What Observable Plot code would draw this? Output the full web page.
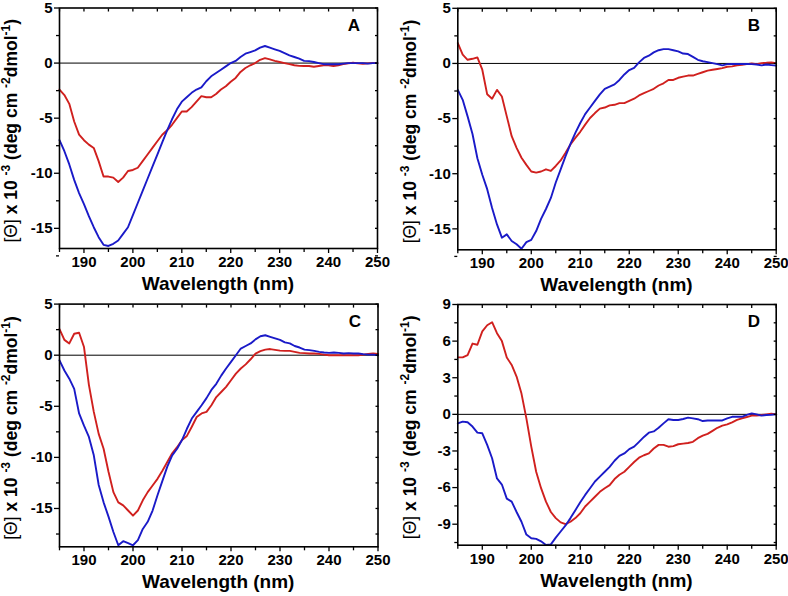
<!DOCTYPE html>
<html>
<head>
<meta charset="utf-8">
<script src="https://cdn.jsdelivr.net/npm/d3@7"></script>
<script src="https://cdn.jsdelivr.net/npm/@observablehq/plot@0.6"></script>
<style>
  html, body { margin: 0; padding: 0; background: #fff; }
  #grid { display: grid; grid-template-columns: 394px 394px; grid-template-rows: 298px 298px; width: 788px; height: 596px; }
  #grid > div { width: 394px; height: 298px; overflow: visible; }
  svg { display: block; overflow: visible; }
</style>
</head>
<body>
<div id="grid"><div id="pA"></div><div id="pB"></div><div id="pC"></div><div id="pD"></div></div>
<script>
// ---- data (wavelength in nm; mean residue ellipticity x 10^-3) ----
const wavelengths = [185,186,187,188,189,190,191,192,193,194,195,196,197,198,199,200,201,202,203,204,205,206,207,208,209,210,211,212,213,214,215,216,217,218,219,220,221,222,223,224,225,226,227,228,229,230,231,232,233,234,235,236,237,238,239,240,241,242,243,244,245,246,247,248,249,250];

const blueA = [-7.0,-8.0,-9.2,-10.6,-11.8,-12.8,-13.9,-14.9,-15.8,-16.5,-16.6,-16.4,-16.1,-15.5,-14.9,-13.8,-12.7,-11.6,-10.5,-9.4,-8.3,-7.2,-6.1,-5.1,-4.2,-3.5,-3.1,-2.7,-2.4,-2.2,-1.65,-1.2,-0.9,-0.6,-0.3,0.0,0.2,0.55,0.85,1.0,1.15,1.4,1.55,1.4,1.25,1.1,0.9,0.7,0.55,0.4,0.2,0.18,0.1,0.0,-0.1,-0.1,-0.1,-0.1,-0.05,0.0,0.0,0.0,0.0,-0.05,0.0,0.0];
const redA = [-2.4,-2.9,-3.7,-5.3,-6.5,-7.0,-7.4,-7.7,-8.9,-10.3,-10.3,-10.4,-10.8,-10.4,-9.8,-9.7,-9.5,-8.9,-8.3,-7.7,-7.1,-6.5,-6.1,-5.6,-5.0,-4.4,-4.4,-4.0,-3.5,-3.0,-3.1,-3.1,-2.8,-2.4,-2.1,-1.7,-1.35,-0.8,-0.45,-0.2,0.0,0.3,0.45,0.33,0.2,0.1,0.0,-0.1,-0.2,-0.25,-0.27,-0.27,-0.33,-0.27,-0.2,-0.2,-0.27,-0.2,-0.1,-0.03,0.03,-0.03,-0.06,-0.03,0.0,0.0];

const blueB = [-2.4,-3.3,-4.8,-6.4,-8.6,-10.1,-11.4,-13.1,-14.6,-15.8,-15.5,-16.1,-16.4,-16.8,-16.2,-16.0,-15.2,-14.1,-13.2,-12.2,-10.8,-9.6,-8.4,-7.3,-6.3,-5.4,-4.6,-4.0,-3.4,-2.8,-2.3,-2.1,-1.9,-1.5,-1.0,-0.6,-0.4,0.1,0.5,0.7,1.0,1.2,1.3,1.3,1.2,1.1,0.9,0.85,0.6,0.33,0.2,0.12,0.03,-0.06,-0.18,-0.06,-0.05,-0.05,-0.05,-0.05,-0.06,-0.1,-0.18,-0.1,-0.15,-0.2];
const redB = [1.85,0.8,0.33,0.42,0.55,-0.57,-2.8,-3.2,-2.4,-3.0,-4.8,-6.6,-7.65,-8.55,-9.2,-9.8,-9.9,-9.8,-9.6,-9.75,-9.3,-8.8,-8.1,-7.35,-6.75,-6.2,-5.55,-4.95,-4.5,-4.1,-4.0,-3.8,-3.75,-3.6,-3.6,-3.4,-3.2,-2.9,-2.7,-2.5,-2.3,-2.0,-1.8,-1.5,-1.5,-1.3,-1.2,-1.1,-1.1,-0.95,-0.8,-0.65,-0.57,-0.5,-0.42,-0.3,-0.27,-0.18,-0.12,-0.06,0.0,-0.06,0.03,0.06,0.1,0.03];

const blueC = [-0.5,-1.5,-2.3,-3.3,-5.7,-6.9,-8.0,-9.8,-12.7,-14.4,-15.8,-17.3,-18.6,-18.2,-18.4,-18.6,-18.1,-17.0,-16.3,-15.2,-13.7,-12.3,-10.9,-9.8,-9.15,-8.3,-7.2,-6.2,-5.55,-4.9,-4.2,-3.4,-2.8,-2.0,-1.3,-0.65,0.0,0.65,0.9,1.15,1.55,1.85,1.95,1.8,1.65,1.5,1.25,1.15,0.9,0.75,0.55,0.5,0.42,0.33,0.26,0.23,0.26,0.23,0.16,0.2,0.16,0.16,0.1,0.06,0.06,0.0];
const redC = [2.55,1.5,1.15,2.1,2.2,0.8,-2.9,-5.55,-7.7,-9.15,-11.4,-13.4,-14.4,-14.7,-15.2,-15.7,-15.2,-14.2,-13.4,-12.75,-12.1,-11.3,-10.45,-9.6,-9.0,-8.3,-7.9,-7.0,-6.05,-5.7,-5.55,-4.9,-4.1,-3.6,-3.1,-2.45,-1.8,-1.3,-0.9,-0.4,0.16,0.4,0.55,0.6,0.52,0.45,0.42,0.42,0.33,0.23,0.2,0.16,0.16,0.13,0.06,0.0,0.0,0.0,0.0,0.0,0.0,0.0,0.06,0.13,0.16,0.13];

const blueD = [-0.74,-0.6,-0.65,-1.0,-1.5,-1.55,-2.5,-3.6,-5.25,-5.75,-6.9,-7.15,-8.0,-8.8,-9.85,-10.15,-10.2,-10.4,-10.7,-10.65,-10.1,-9.6,-9.1,-8.5,-7.85,-7.2,-6.6,-6.05,-5.5,-5.1,-4.7,-4.3,-3.8,-3.4,-3.2,-2.85,-2.65,-2.25,-1.85,-1.5,-1.4,-1.1,-0.74,-0.4,-0.46,-0.46,-0.38,-0.27,-0.33,-0.4,-0.55,-0.5,-0.5,-0.5,-0.5,-0.33,-0.2,-0.2,-0.2,-0.05,0.08,0.0,-0.1,-0.05,-0.03,0.0];
const redD = [4.67,4.67,4.86,5.8,5.7,6.8,7.3,7.55,6.65,6.0,4.65,4.05,3.1,1.7,-0.33,-2.65,-4.7,-6.05,-7.15,-8.0,-8.5,-8.85,-9.0,-8.8,-8.5,-8.1,-7.55,-7.15,-6.75,-6.35,-6.05,-5.8,-5.3,-4.95,-4.7,-4.3,-3.9,-3.55,-3.35,-3.2,-2.8,-2.5,-2.5,-2.65,-2.6,-2.45,-2.4,-2.35,-2.25,-1.95,-1.75,-1.6,-1.35,-1.1,-0.93,-0.82,-0.65,-0.46,-0.33,-0.22,-0.1,-0.1,-0.05,0.0,0.05,0.0];

const panelLetters = ["A", "B", "C", "D"];
const xMajorTicks = [190, 200, 210, 220, 230, 240, 250];
const xMinorTicks = [185, 195, 205, 215, 225, 235, 245];
const yMajorABC = [5, 0, -5, -10, -15];
const yMinorABC = [2.5, -2.5, -7.5, -12.5, -17.5];
const yMajorD = [9, 6, 3, 0, -3, -6, -9];
const yMinorD = [7.5, 4.5, 1.5, -1.5, -4.5, -7.5, -10.5];
const xLabel = "Wavelength (nm)";

// ---- layout ----
const BLUE = "#1a1ac8";
const RED = "#d0201e";
const FONT = "'Liberation Sans', Arial, Helvetica, sans-serif";

const panels = [
  {id: "pA", letter: panelLetters[0], blue: blueA, red: redA, ydom: [-16.83, 5], ymaj: yMajorABC, ymin: yMinorABC, ml: 59, mr: 17, mt: 7.5, mb: 50, ylx: 17, lx: 354, ly: 31},
  {id: "pB", letter: panelLetters[1], blue: blueB, red: redB, ydom: [-16.9, 5], ymaj: yMajorABC, ymin: yMinorABC, ml: 63.3, mr: 12.3, mt: 7.8, mb: 48.7, ylx: 22, lx: 360, ly: 31},
  {id: "pC", letter: panelLetters[2], blue: blueC, red: redC, ydom: [-18.75, 5], ymaj: yMajorABC, ymin: yMinorABC, ml: 59, mr: 16.5, mt: 5.6, mb: 49.7, ylx: 17, lx: 355, ly: 29},
  {id: "pD", letter: panelLetters[3], blue: blueD, red: redD, ydom: [-10.72, 9], ymaj: yMajorD, ymin: yMinorD, ml: 63.3, mr: 12.3, mt: 6, mb: 51.3, ylx: 22, lx: 360, ly: 29}
];

const fmt = d => String(d);
const blank = () => "";

for (const p of panels) {
  const blueData = wavelengths.map((w, i) => ({w, v: p.blue[i]}));
  const redData = wavelengths.map((w, i) => ({w, v: p.red[i]}));
  const chart = Plot.plot({
    width: 394,
    height: 298,
    marginLeft: p.ml,
    marginRight: p.mr,
    marginTop: p.mt,
    marginBottom: p.mb,
    x: {domain: [185, 250]},
    y: {domain: p.ydom},
    style: {fontFamily: FONT, fontSize: "15px", fontWeight: "bold", color: "black", background: "white", overflow: "visible"},
    marks: [
      Plot.ruleY([0], {stroke: "black", strokeWidth: 1}),
      Plot.line(redData, {x: "w", y: "v", stroke: RED, strokeWidth: 1.9, curve: "linear"}),
      Plot.line(blueData, {x: "w", y: "v", stroke: BLUE, strokeWidth: 1.9, curve: "linear"}),
      Plot.frame({stroke: "black", strokeWidth: 1.6}),
      Plot.axisX({ticks: xMajorTicks, tickSize: 5, tickPadding: 3, tickFormat: fmt, label: null, strokeWidth: 1.3}),
      Plot.axisX({ticks: xMinorTicks, tickSize: 4, tickFormat: blank, label: null, strokeWidth: 1.3}),
      Plot.axisX({anchor: "top", ticks: [...xMajorTicks, ...xMinorTicks], tickSize: -3, tickFormat: blank, label: null, strokeWidth: 1.3}),
      Plot.axisY({ticks: p.ymaj, tickSize: 5, tickPadding: 2, tickFormat: fmt, label: null, strokeWidth: 1.3}),
      Plot.axisY({ticks: p.ymin, tickSize: 3, tickFormat: blank, label: null, strokeWidth: 1.3}),
      Plot.axisY({anchor: "right", ticks: [...p.ymaj, ...p.ymin], tickSize: -3, tickFormat: blank, label: null, strokeWidth: 1.3})
    ]
  });
  const svg = d3.select(chart);
  // x axis title
  const cx = p.ml + (394 - p.ml - p.mr) / 2;
  svg.append("text")
    .attr("x", cx).attr("y", 298 - p.mb + 42)
    .attr("text-anchor", "middle")
    .style("font-family", FONT).style("font-size", "19px").style("font-weight", "bold")
    .attr("fill", "black")
    .text(xLabel);
  // y axis title with superscripts
  const cy = p.mt + (298 - p.mt - p.mb) / 2 + 3;
  const t = svg.append("text")
    .attr("transform", `translate(${p.ylx},${cy}) rotate(-90)`)
    .attr("text-anchor", "middle")
    .style("font-family", FONT).style("font-size", "17.5px").style("font-weight", "bold")
    .attr("fill", "black");
  t.append("tspan").style("font-weight", "normal").text("[Θ]");
  t.append("tspan").text(" x 10 ");
  t.append("tspan").attr("baseline-shift", "super").style("font-size", "12px").text("-3");
  t.append("tspan").text(" (deg cm ");
  t.append("tspan").attr("baseline-shift", "super").style("font-size", "12px").text("-2");
  t.append("tspan").text("dmol");
  t.append("tspan").attr("baseline-shift", "super").style("font-size", "12px").text("-1");
  t.append("tspan").text(")");
  // panel letter
  svg.append("text")
    .attr("x", p.lx).attr("y", p.ly)
    .attr("text-anchor", "middle")
    .style("font-family", FONT).style("font-size", "17px").style("font-weight", "bold")
    .attr("fill", "black")
    .text(p.letter);
  document.getElementById(p.id).appendChild(chart);
}
</script>
</body>
</html>
